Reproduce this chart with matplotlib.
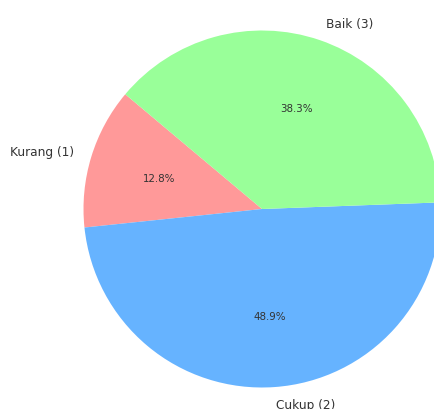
import matplotlib
matplotlib.use("Agg")
import matplotlib.pyplot as plt

# Jumlah responden per kategori
labels = ["Kurang (1)", "Cukup (2)", "Baik (3)"]
counts = [6, 23, 18]
colors = ["#ff9999", "#66b3ff", "#99ff99"]

W, H = 435, 410
CX, CY, R = 262, 210, 178.5  # px, pusat & jari-jari pie

fig = plt.figure(figsize=(W / 100, H / 100), dpi=100)
ax = fig.add_axes([0, 0, 1, 1])

wedges, texts, autotexts = ax.pie(
    counts, labels=labels, colors=colors, autopct="%1.1f%%",
    startangle=140, textprops={"color": "#333333", "fontsize": 8.7})
for t in autotexts:
    t.set_fontsize(7.4)
ax.set_aspect("auto")
ax.set_xlim(-CX / R, (W - CX) / R)
ax.set_ylim(-(H - CY) / R, CY / R)

fig.savefig("out.png", dpi=100)
